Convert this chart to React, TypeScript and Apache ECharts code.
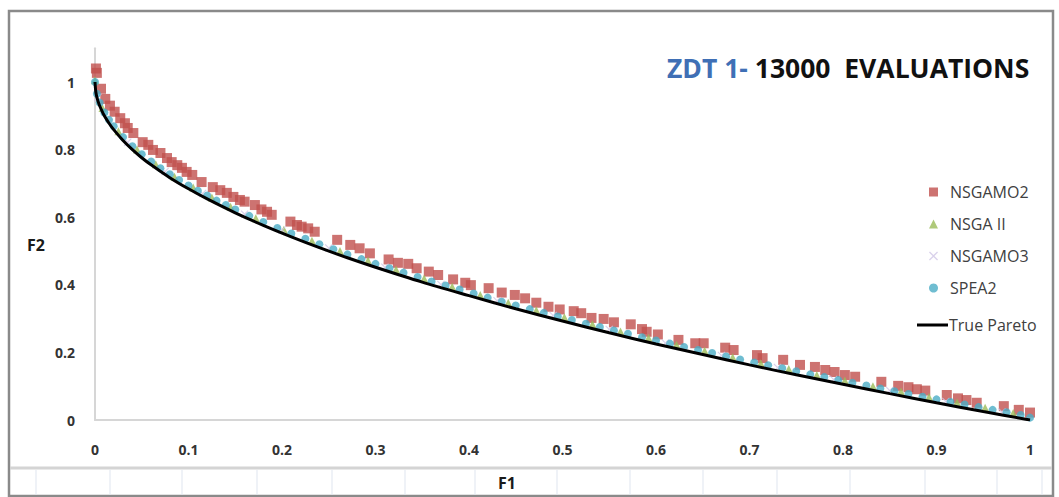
import React, { useEffect, useRef } from "react";
import * as echarts from "echarts";

// ---------- data ----------
const xTicks = [0, 0.1, 0.2, 0.3, 0.4, 0.5, 0.6, 0.7, 0.8, 0.9, 1];
const yTicks = [0, 0.2, 0.4, 0.6, 0.8, 1];

const nsgamo2: number[][] = [
  [0.001, 1.04], [0.002, 1.027], [0.0064, 0.98], [0.011, 0.95], [0.016, 0.93], [0.021, 0.912],
  [0.027, 0.893], [0.032, 0.878], [0.035, 0.864], [0.041, 0.849], [0.051, 0.822], [0.057, 0.814],
  [0.062, 0.799], [0.07, 0.79], [0.077, 0.775], [0.082, 0.763], [0.088, 0.754], [0.093, 0.746],
  [0.098, 0.734], [0.104, 0.725], [0.114, 0.704], [0.126, 0.689], [0.134, 0.68], [0.141, 0.672],
  [0.148, 0.66], [0.155, 0.651], [0.16, 0.646], [0.171, 0.636], [0.178, 0.623], [0.184, 0.616],
  [0.189, 0.607], [0.209, 0.587], [0.216, 0.577], [0.221, 0.572], [0.228, 0.567], [0.235, 0.557],
  [0.259, 0.533], [0.273, 0.518], [0.283, 0.508], [0.294, 0.493], [0.314, 0.475], [0.324, 0.465],
  [0.335, 0.462], [0.344, 0.449], [0.357, 0.439], [0.367, 0.429], [0.383, 0.416], [0.396, 0.406],
  [0.402, 0.399], [0.421, 0.39], [0.435, 0.377], [0.449, 0.37], [0.46, 0.36], [0.472, 0.347],
  [0.485, 0.335], [0.497, 0.327], [0.512, 0.322], [0.52, 0.316], [0.531, 0.302], [0.544, 0.299],
  [0.555, 0.289], [0.573, 0.283], [0.585, 0.269], [0.59, 0.261], [0.602, 0.253], [0.624, 0.237],
  [0.642, 0.227], [0.651, 0.227], [0.674, 0.214], [0.683, 0.207], [0.708, 0.192], [0.714, 0.183],
  [0.736, 0.178], [0.754, 0.163], [0.77, 0.157], [0.781, 0.148], [0.791, 0.142], [0.802, 0.133],
  [0.813, 0.128], [0.841, 0.113], [0.859, 0.101], [0.87, 0.097], [0.879, 0.091], [0.888, 0.087],
  [0.911, 0.074], [0.923, 0.064], [0.932, 0.059], [0.943, 0.051], [0.972, 0.041], [0.988, 0.03],
  [1.0, 0.022],
];

const nsga2: number[][] = [
  [0, 1.005], [0.008, 0.923], [0.025, 0.854], [0.045, 0.8], [0.065, 0.757], [0.085, 0.72],
  [0.105, 0.688], [0.125, 0.658], [0.145, 0.631], [0.172, 0.597], [0.202, 0.563], [0.232, 0.53],
  [0.262, 0.5], [0.292, 0.472], [0.322, 0.445], [0.352, 0.419], [0.382, 0.394], [0.412, 0.37],
  [0.442, 0.347], [0.472, 0.325], [0.502, 0.304], [0.532, 0.283], [0.562, 0.262], [0.592, 0.243],
  [0.622, 0.223], [0.652, 0.205], [0.682, 0.186], [0.712, 0.168], [0.742, 0.151], [0.772, 0.133],
  [0.802, 0.117], [0.832, 0.1], [0.862, 0.084], [0.892, 0.068], [0.922, 0.052], [0.952, 0.036],
  [0.982, 0.021],
];

const nsgamo3: number[][] = [
  [0.003, 0.954], [0.035, 0.822], [0.075, 0.735], [0.115, 0.67], [0.16, 0.609], [0.2, 0.562],
  [0.25, 0.509], [0.31, 0.452], [0.37, 0.401], [0.43, 0.353], [0.49, 0.309], [0.55, 0.268],
  [0.61, 0.228], [0.67, 0.191], [0.73, 0.155], [0.79, 0.12], [0.85, 0.087], [0.91, 0.055],
  [0.97, 0.024],
];

const spea2: number[][] = [
  [0, 1.0], [0.002, 0.965], [0.005, 0.939], [0.01, 0.91], [0.015, 0.888], [0.02, 0.869],
  [0.03, 0.837], [0.04, 0.81], [0.05, 0.786], [0.06, 0.765], [0.07, 0.745], [0.08, 0.727],
  [0.09, 0.71], [0.1, 0.694], [0.11, 0.678], [0.12, 0.664], [0.13, 0.649], [0.14, 0.636],
  [0.15, 0.623], [0.165, 0.604], [0.18, 0.586], [0.195, 0.568], [0.21, 0.552], [0.225, 0.536],
  [0.24, 0.52], [0.255, 0.505], [0.27, 0.49], [0.285, 0.476], [0.3, 0.462], [0.315, 0.449],
  [0.33, 0.436], [0.345, 0.423], [0.36, 0.41], [0.375, 0.398], [0.39, 0.386], [0.405, 0.374],
  [0.42, 0.362], [0.435, 0.35], [0.45, 0.339], [0.465, 0.328], [0.48, 0.317], [0.495, 0.306],
  [0.51, 0.296], [0.525, 0.285], [0.54, 0.275], [0.555, 0.265], [0.57, 0.255], [0.585, 0.245],
  [0.6, 0.235], [0.615, 0.226], [0.63, 0.216], [0.645, 0.207], [0.66, 0.198], [0.675, 0.188],
  [0.69, 0.179], [0.705, 0.17], [0.72, 0.162], [0.735, 0.153], [0.75, 0.144], [0.765, 0.135],
  [0.78, 0.127], [0.795, 0.118], [0.81, 0.11], [0.825, 0.102], [0.84, 0.093], [0.855, 0.085],
  [0.87, 0.077], [0.885, 0.069], [0.9, 0.061], [0.915, 0.053], [0.93, 0.046], [0.945, 0.038],
  [0.96, 0.03], [0.975, 0.023], [0.99, 0.015], [1.0, 0.007],
];

const truePareto: number[][] = [
  [0, 1], [0.001, 0.968], [0.003, 0.945], [0.006, 0.923], [0.01, 0.9], [0.015, 0.878],
  [0.02, 0.859], [0.03, 0.827], [0.04, 0.8], [0.05, 0.776], [0.06, 0.755], [0.08, 0.717],
  [0.1, 0.684], [0.12, 0.654], [0.15, 0.613], [0.18, 0.576], [0.21, 0.542], [0.24, 0.51],
  [0.27, 0.48], [0.3, 0.452], [0.35, 0.408], [0.4, 0.368], [0.45, 0.329], [0.5, 0.293],
  [0.55, 0.258], [0.6, 0.225], [0.65, 0.194], [0.7, 0.163], [0.75, 0.134], [0.8, 0.106],
  [0.85, 0.078], [0.9, 0.051], [0.95, 0.025], [1.0, 0],
];

const scatterNames = ["NSGAMO2", "NSGA II", "NSGAMO3", "SPEA2"];
const lineName = "True Pareto";
const cellLinesX = [36, 110, 182, 257, 332, 405, 475, 557, 630, 703, 777, 850, 925, 997, 1042];

const FONT = "'Open Sans', 'Liberation Sans', sans-serif";
const X_SYMBOL = "path://M0,1 L1,0 L5,4 L9,0 L10,1 L6,5 L10,9 L9,10 L5,6 L1,10 L0,9 L4,5 Z";

export default function App() {
  const ref = useRef<HTMLDivElement>(null);

  useEffect(() => {
    document.body.style.margin = "0";
    if (!ref.current) return;
    const chart = echarts.init(ref.current, undefined, { renderer: "svg" });

    const graphics: any[] = [
      {
        type: "rect",
        z: -10,
        shape: { x: 9, y: 11, width: 1044, height: 485 },
        style: { fill: "#ffffff", stroke: "#8a8a8a", lineWidth: 2.5 },
      },
      {
        type: "line",
        z: -5,
        shape: { x1: 10, y1: 468, x2: 1052, y2: 468 },
        style: { stroke: "#d4d4d4", lineWidth: 3 },
      },
      ...cellLinesX.map((x) => ({
        type: "line",
        z: -5,
        shape: { x1: x, y1: 470, x2: x, y2: 495 },
        style: { stroke: "#dfe5ef", lineWidth: 1 },
      })),
      {
        type: "text",
        x: 27,
        y: 245,
        style: { text: "F2", font: `bold 16px ${FONT}`, fill: "#1a1a1a", verticalAlign: "middle" },
      },
      {
        type: "text",
        x: 498,
        y: 483,
        style: { text: "F1", font: `bold 16px ${FONT}`, fill: "#1a1a1a", verticalAlign: "middle" },
      },
    ];

    const legendText = { fontFamily: FONT, fontSize: 16, color: "#404040" };

    chart.setOption({
      animation: false,
      backgroundColor: "#ffffff",
      title: {
        left: 662,
        top: 49,
        text: "{a|ZDT 1- }{b|13000  EVALUATIONS}",
        textStyle: {
          rich: {
            a: { fontFamily: FONT, fontWeight: "bold", fontSize: 26.5, color: "#3f6fb5" },
            b: { fontFamily: FONT, fontWeight: "bold", fontSize: 26.5, color: "#111111" },
          },
        },
      },
      legend: [
        {
          orient: "vertical",
          left: 929,
          top: 184,
          padding: 0,
          itemWidth: 9,
          itemHeight: 9,
          itemGap: 16,
          data: scatterNames,
          textStyle: { ...legendText, padding: [0, 0, 0, 7] },
        },
        {
          orient: "vertical",
          left: 917,
          top: 317,
          padding: 0,
          itemWidth: 31,
          itemHeight: 3,
          icon: "rect",
          data: [lineName],
          textStyle: { ...legendText, padding: [0, 0, 0, -4] },
        },
      ],
      graphic: graphics,
      grid: { left: 95, right: 29, top: 48.2, bottom: 77, outerBoundsMode: "none" },
      xAxis: {
        type: "value",
        min: 0,
        max: 1,
        interval: 0.1,
        axisLine: { show: true, onZero: false, lineStyle: { color: "#d6d6d6", width: 2 } },
        axisTick: { show: false },
        splitLine: { show: false },
        axisLabel: {
          margin: 22,
          fontFamily: FONT,
          fontWeight: "bold",
          fontSize: 14,
          color: "#333333",
          formatter: (v: number) => {
            const t = xTicks.find((k) => Math.abs(k - v) < 1e-6);
            return t === undefined ? "" : String(t);
          },
        },
      },
      yAxis: {
        type: "value",
        min: 0,
        max: 1.1,
        interval: 0.2,
        axisLine: { show: true, onZero: false, lineStyle: { color: "#d6d6d6", width: 2 } },
        axisTick: { show: false },
        splitLine: { show: false },
        axisLabel: {
          margin: 20,
          showMaxLabel: false,
          fontFamily: FONT,
          fontWeight: "bold",
          fontSize: 14,
          color: "#333333",
          formatter: (v: number) => {
            const t = yTicks.find((k) => Math.abs(k - v) < 1e-6);
            return t === undefined ? "" : String(t);
          },
        },
      },
      series: [
        {
          name: "NSGAMO2",
          type: "scatter",
          symbol: "rect",
          symbolSize: 10,
          itemStyle: { color: "#c0504d" },
          data: nsgamo2,
        },
        {
          name: "NSGA II",
          type: "scatter",
          symbol: "triangle",
          symbolSize: 8,
          itemStyle: { color: "#9bbb59" },
          data: nsga2,
        },
        {
          name: "NSGAMO3",
          type: "scatter",
          symbol: X_SYMBOL,
          symbolSize: 8,
          itemStyle: { color: "#cfc6e6" },
          data: nsgamo3,
        },
        {
          name: "SPEA2",
          type: "scatter",
          symbol: "circle",
          symbolSize: 8,
          itemStyle: { color: "#4bacc6" },
          data: spea2,
        },
        {
          name: lineName,
          type: "line",
          symbol: "none",
          smooth: 0.3,
          lineStyle: { color: "#000000", width: 3 },
          itemStyle: { color: "#000000" },
          data: truePareto,
        },
      ],
    });

    return () => chart.dispose();
  }, []);

  return <div ref={ref} style={{ width: 1059, height: 497 }} />;
}
